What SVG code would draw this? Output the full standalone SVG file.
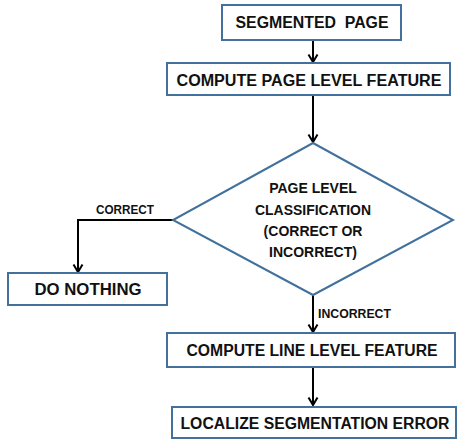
<svg xmlns="http://www.w3.org/2000/svg" width="457" height="441" viewBox="0 0 457 441">
<style>
.box{fill:#fff;stroke:#41719C;stroke-width:2}
.t{font-family:"Liberation Sans",Arial,sans-serif;font-weight:bold;fill:#111;text-anchor:middle;dominant-baseline:central}
.lb{font-family:"Liberation Sans",Arial,sans-serif;font-weight:bold;fill:#111;font-size:12px}
.c{fill:none;stroke:#000;stroke-width:2}
</style>
<defs>
<marker id="ah" markerWidth="12" markerHeight="12" refX="10" refY="6" orient="auto" markerUnits="userSpaceOnUse" viewBox="0 0 12 12">
<path d="M2.5,1.5 L10,6 L2.5,10.5" fill="none" stroke="#000" stroke-width="2"/>
</marker>
</defs>
<rect width="457" height="441" fill="#fff"/>
<g id="connectors">
<path class="c" d="M313,40 V62" marker-end="url(#ah)"/>
<path class="c" d="M313,95 V142" marker-end="url(#ah)"/>
<path class="c" d="M173,220 H78 V272" marker-end="url(#ah)"/>
<path class="c" d="M313,295 V332" marker-end="url(#ah)"/>
<path class="c" d="M313,367 V405" marker-end="url(#ah)"/>
<text class="lb" x="96" y="214" textLength="58" lengthAdjust="spacingAndGlyphs">CORRECT</text>
<text class="lb" x="318" y="318" textLength="73" lengthAdjust="spacingAndGlyphs">INCORRECT</text>
</g>
<g id="segmented-page">
<rect class="box" x="222" y="5" width="179" height="35"/>
<text class="t" x="312" y="22" font-size="16" textLength="153" lengthAdjust="spacingAndGlyphs" xml:space="preserve">SEGMENTED  PAGE</text>
</g>
<g id="compute-page">
<rect class="box" x="167" y="63" width="283" height="32"/>
<text class="t" x="309" y="80" font-size="16" textLength="265" lengthAdjust="spacingAndGlyphs">COMPUTE PAGE LEVEL FEATURE</text>
</g>
<g id="classification">
<polygon class="box" points="313,143 453,220 313,295 173,220"/>
<text class="t" x="313" y="188" font-size="14">PAGE LEVEL</text>
<text class="t" x="313" y="210" font-size="14" textLength="116" lengthAdjust="spacingAndGlyphs">CLASSIFICATION</text>
<text class="t" x="313" y="231" font-size="14">(CORRECT OR</text>
<text class="t" x="313" y="252" font-size="14">INCORRECT)</text>
</g>
<g id="do-nothing">
<rect class="box" x="8" y="273" width="159" height="32"/>
<text class="t" x="88" y="289" font-size="16" textLength="107" lengthAdjust="spacingAndGlyphs">DO NOTHING</text>
</g>
<g id="compute-line">
<rect class="box" x="167" y="333" width="288" height="34"/>
<text class="t" x="312" y="350" font-size="16" textLength="251" lengthAdjust="spacingAndGlyphs">COMPUTE LINE LEVEL FEATURE</text>
</g>
<g id="localize">
<rect class="box" x="172" y="407" width="284" height="31"/>
<text class="t" x="315" y="423" font-size="16" textLength="269" lengthAdjust="spacingAndGlyphs">LOCALIZE SEGMENTATION ERROR</text>
</g>
</svg>
